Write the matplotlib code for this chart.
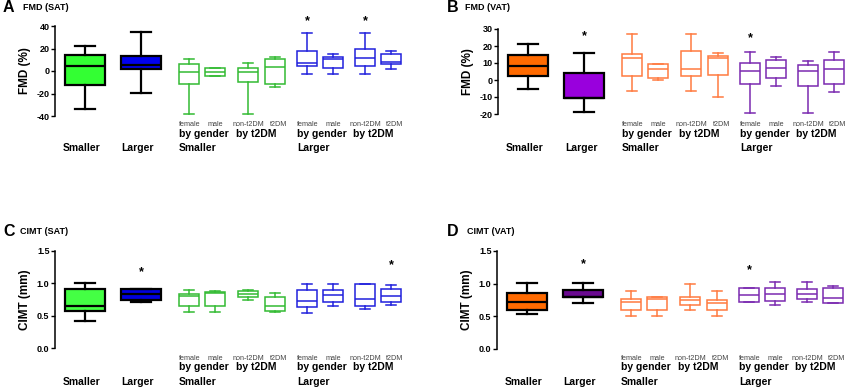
import matplotlib
matplotlib.use('Agg')
import matplotlib.pyplot as plt
from matplotlib.transforms import blended_transform_factory

plt.rcParams['font.family'] = ['Liberation Sans', 'DejaVu Sans']
plt.rcParams['font.weight'] = 'bold'
plt.rcParams['axes.unicode_minus'] = False

groups = ['Smaller', 'Larger']
sub_labels = ['female', 'male', 'non-t2DM', 't2DM']
split_labels = ['by gender', 'by t2DM']

# A - FMD (SAT), order: Smaller, Larger, Smaller f/m/non/t2, Larger f/m/non/t2
a_lo = [-33.5, -19.3, -38.5, -4.5, -38.5, -14.5, -2.7, -2.7, -2.7, 2.1]
a_q1 = [-12.2, 1.8, -11.6, -4.0, -10.0, -11.8, 4.7, 2.4, 4.7, 6.2]
a_med = [4.7, 5.6, -0.6, -0.5, -1.2, 3.8, 7.4, 10.4, 11.6, 8.3]
a_q3 = [14.5, 13.3, 6.2, 2.9, 3.0, 10.4, 17.8, 12.7, 19.2, 15.4]
a_hi = [21.9, 35.0, 10.9, 3.0, 7.4, 12.1, 33.5, 15.4, 33.5, 18.1]
a_star_idx = [6, 8]
a_star_y = [44, 44]

# B - FMD (VAT)
b_lo = [-5.1, -19.1, -6.7, -0.2, -6.7, -9.9, -19.5, -3.4, -19.5, -6.9]
b_q1 = [2.2, -10.8, 2.6, 1.2, 2.6, 3.2, -2.6, 1.0, -3.6, -2.4]
b_med = [8.3, -10.8, 13.0, 6.7, 6.3, 12.8, 5.5, 7.1, 5.3, 6.5]
b_q3 = [14.6, 4.0, 15.2, 9.5, 16.8, 14.2, 9.9, 11.8, 9.1, 11.8]
b_hi = [21.3, 15.8, 27.1, 9.7, 27.1, 15.8, 16.2, 13.4, 11.4, 16.2]
b_star_idx = [1, 6]
b_star_y = [26, 24.5]

# C - CIMT (SAT)
c_lo = [0.41, 0.71, 0.55, 0.55, 0.74, 0.55, 0.535, 0.65, 0.60, 0.67]
c_q1 = [0.568, 0.735, 0.65, 0.65, 0.79, 0.57, 0.64, 0.705, 0.65, 0.71]
c_med = [0.646, 0.83, 0.80, 0.85, 0.83, 0.65, 0.73, 0.82, 0.757, 0.81]
c_q3 = [0.905, 0.915, 0.84, 0.86, 0.875, 0.79, 0.89, 0.89, 0.99, 0.91]
c_hi = [1.0, 0.915, 0.89, 0.88, 0.89, 0.845, 0.99, 0.99, 0.99, 0.97]
c_star_idx = [1, 9]
c_star_y = [1.175, 1.28]

# D - CIMT (VAT)
d_lo = [0.53, 0.71, 0.51, 0.51, 0.60, 0.51, 0.718, 0.667, 0.713, 0.70]
d_q1 = [0.595, 0.79, 0.595, 0.595, 0.667, 0.60, 0.718, 0.74, 0.765, 0.703]
d_med = [0.713, 0.80, 0.713, 0.76, 0.75, 0.708, 0.832, 0.835, 0.847, 0.775]
d_q3 = [0.857, 0.903, 0.765, 0.795, 0.80, 0.755, 0.94, 0.94, 0.913, 0.94]
d_hi = [1.01, 1.01, 0.894, 0.80, 0.99, 0.894, 0.94, 1.02, 1.02, 0.965]
d_star_idx = [1, 6]
d_star_y = [1.30, 1.21]

positions = [30, 86, 134, 160, 193, 220, 252, 278, 310, 336]
sub_shift = [1, 0, 0, 4]
W, H = 850, 388


def panel(ax, lo, q1, med, q3, hi, fills, lines, ticks, ylabel, star_idx, star_y, text_y):
    for i in range(len(med)):
        st = [dict(whislo=lo[i], q1=q1[i], med=med[i], q3=q3[i], whishi=hi[i])]
        if i < 2:
            lw, ec, w, fc = 1.6, 'black', 40, fills[i]
        else:
            lw, ec, w, fc = 1.1, lines[0] if i < 6 else lines[1], 20, 'white'
        ax.bxp(st, positions=[positions[i]], widths=w, capwidths=w / 2,
               patch_artist=True, showfliers=False, manage_ticks=False,
               boxprops=dict(linewidth=lw, edgecolor=ec, facecolor=fc),
               whiskerprops=dict(linewidth=lw, color=ec),
               capprops=dict(linewidth=lw, color=ec),
               medianprops=dict(linewidth=lw, color=ec))
    for k, y in zip(star_idx, star_y):
        ax.text(positions[k], y, '*', ha='center', va='center', fontsize=9)

    ax.set_ylim(ticks[0], ticks[-1])
    ax.set_yticks(ticks)
    if ticks[-1] > 2:
        ax.set_yticklabels(['%d' % t for t in ticks])
    else:
        ax.set_yticklabels(['%.1f' % t for t in ticks])
    ax.tick_params(axis='y', labelsize=6.5, length=3, width=1, pad=1)
    ax.set_xticks([])
    for s in ['top', 'right', 'bottom']:
        ax.spines[s].set_visible(False)
    ax.spines['left'].set_linewidth(1.1)
    ax.set_ylabel(ylabel, fontsize=8.5, fontweight='bold', labelpad=4)

    tr = blended_transform_factory(ax.transData, ax.figure.transFigure)
    y1, y2, y3 = [1 - v / H for v in text_y]
    for k in range(2):
        ax.text(positions[k] - 3, y3, groups[k], transform=tr, ha='center', va='center', fontsize=7.5)
    for g in range(2):
        base = 2 + 4 * g
        for j in range(4):
            ax.text(positions[base + j] + sub_shift[j], y1, sub_labels[j], transform=tr, ha='center',
                    va='center', fontsize=5.2, fontweight='normal', color='#444444')
        ax.text(positions[base] - 10, y2, split_labels[0], transform=tr, ha='left', va='center', fontsize=7.5)
        ax.text(positions[base + 2] - 12, y2, split_labels[1], transform=tr, ha='left', va='center', fontsize=7.5)
        ax.text(positions[base] - 10, y3, groups[g], transform=tr, ha='left', va='center', fontsize=7.5)


fig = plt.figure(figsize=(8.5, 3.88), dpi=100)

axA = fig.add_axes([55 / W, 1 - 116 / H, 360 / W, 90 / H])
axA.set_xlim(0, 360)
panel(axA, a_lo, a_q1, a_med, a_q3, a_hi, ['#33ff33', '#0000ee'], ['#33bb33', '#2020dd'],
      [-40, -20, 0, 20, 40], 'FMD (%)', a_star_idx, a_star_y, [125, 134, 148])

axB = fig.add_axes([498 / W, 1 - 114 / H, 350 / W, 85 / H])
axB.set_xlim(0, 350)
panel(axB, b_lo, b_q1, b_med, b_q3, b_hi, ['#ff6a00', '#9900dd'], ['#ff7a40', '#7a2ab0'],
      [-20, -10, 0, 10, 20, 30], 'FMD (%)', b_star_idx, b_star_y, [125, 134, 148])

axC = fig.add_axes([55 / W, 1 - 348 / H, 360 / W, 97 / H])
axC.set_xlim(0, 360)
panel(axC, c_lo, c_q1, c_med, c_q3, c_hi, ['#44ff44', '#0000dd'], ['#33bb33', '#2020dd'],
      [0.0, 0.5, 1.0, 1.5], 'CIMT (mm)', c_star_idx, c_star_y, [358, 367, 382])

axD = fig.add_axes([497 / W, 1 - 349 / H, 350 / W, 98 / H])
axD.set_xlim(0, 350)
panel(axD, d_lo, d_q1, d_med, d_q3, d_hi, ['#ff6a00', '#6a0a90'], ['#ff7a40', '#7a2ab0'],
      [0.0, 0.5, 1.0, 1.5], 'CIMT (mm)', d_star_idx, d_star_y, [358, 367, 382])

letters = [('A', 3, 8, 'FMD (SAT)', 23), ('B', 447, 8, 'FMD (VAT)', 465),
           ('C', 3, 231, 'CIMT (SAT)', 20), ('D', 447, 231, 'CIMT (VAT)', 467)]
for lt, x, y, title, tx in letters:
    fig.text(x / W, 1 - y / H, lt, fontsize=11.5, ha='left', va='center')
    fig.text(tx / W, 1 - y / H, title, fontsize=6.5, ha='left', va='center')

fig.savefig('out.png', dpi=100)
